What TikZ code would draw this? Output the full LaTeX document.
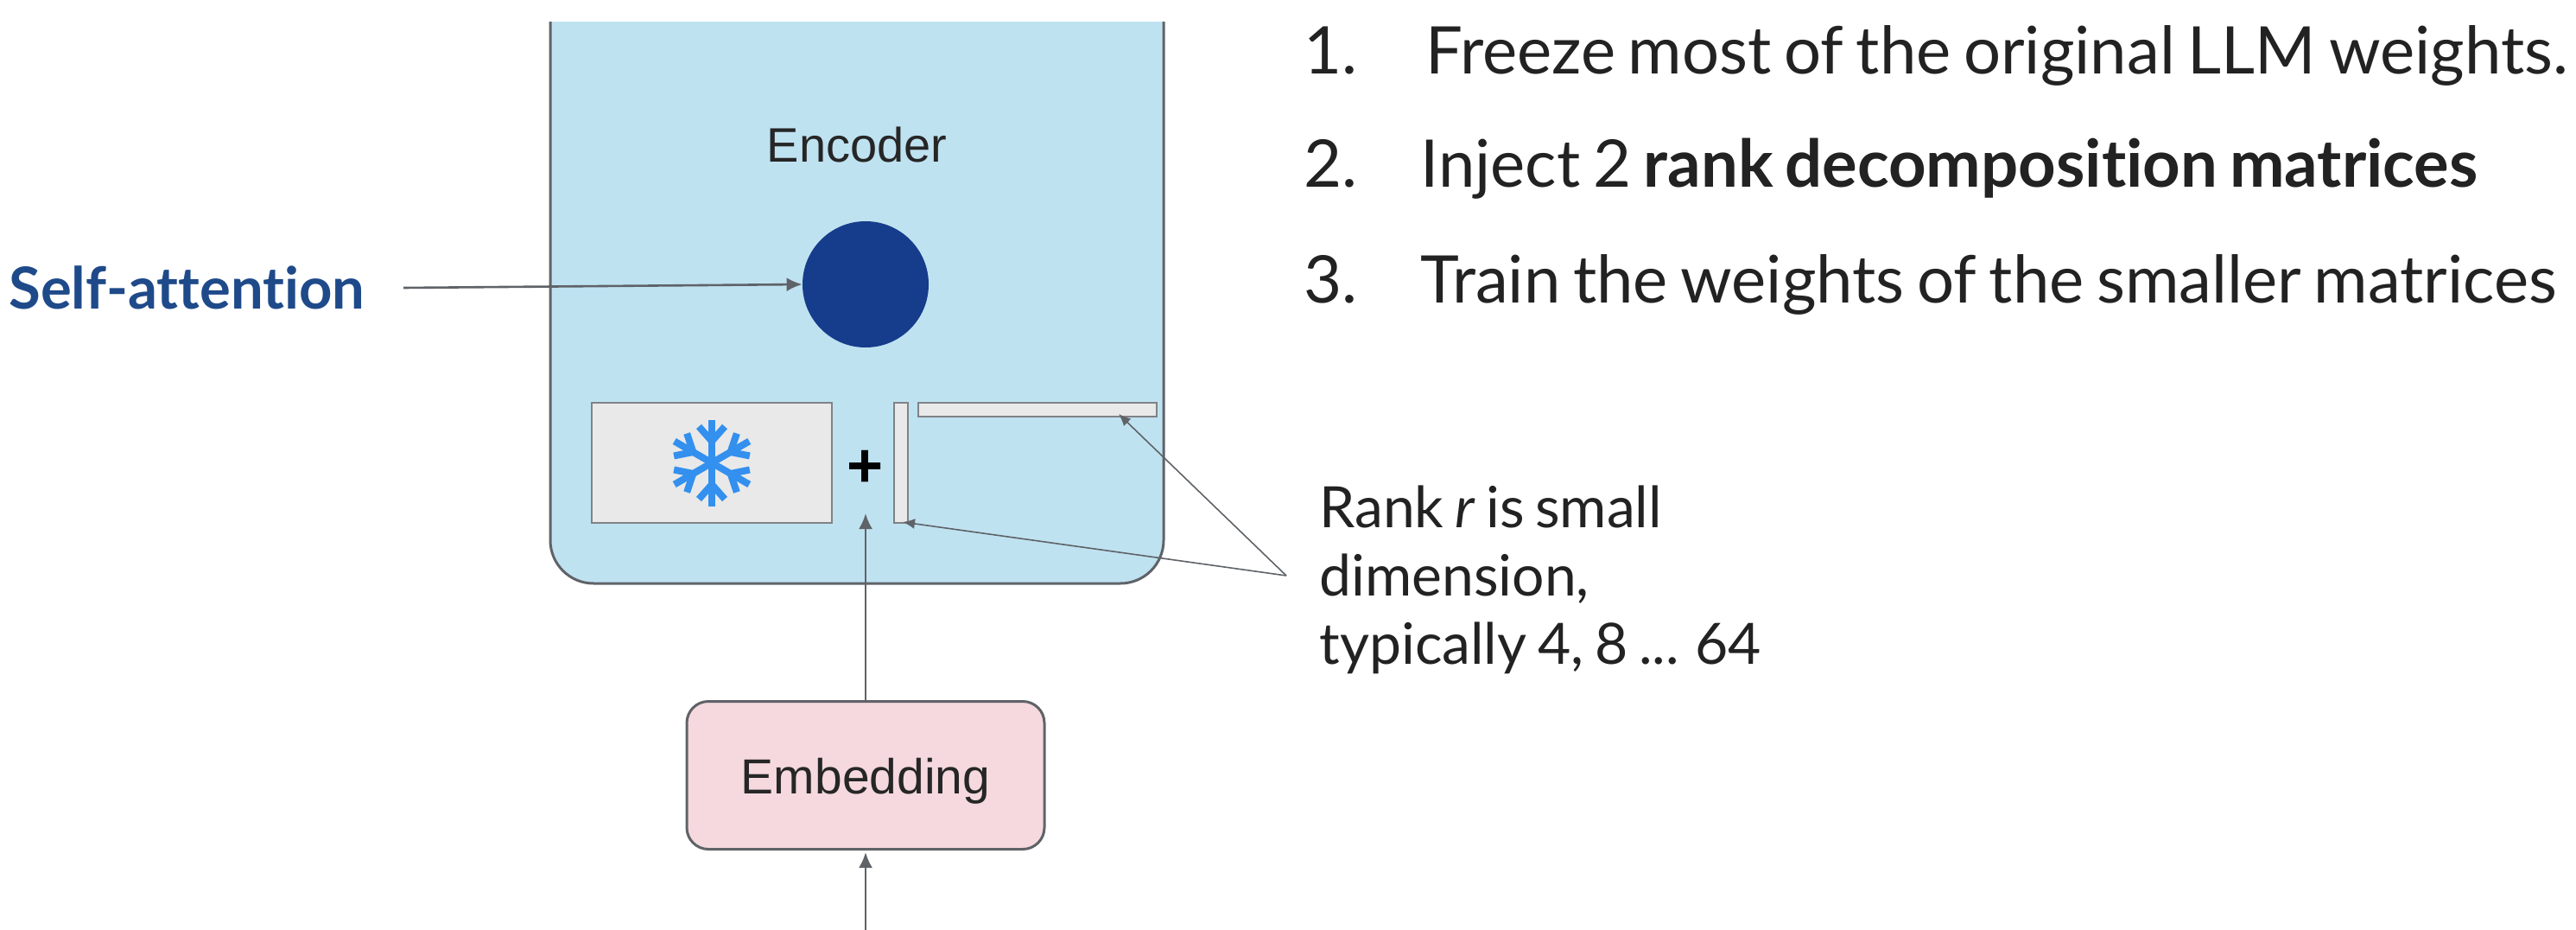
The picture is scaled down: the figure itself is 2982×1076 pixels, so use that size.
\documentclass[tikz,border=0pt]{standalone}
\usepackage{fontspec}
\setmainfont[Ligatures=NoCommon, WordSpace=0.75]{Lato}
\newfontfamily\arialfont{Liberation Sans}
\usetikzlibrary{positioning, arrows.meta}
\definecolor{encfill}{HTML}{BFE2F1}
\definecolor{embfill}{HTML}{F5D9DE}
\definecolor{matfill}{HTML}{E9E9E9}
\definecolor{edgegrey}{HTML}{5F6368}
\definecolor{attblue}{HTML}{163C8C}
\definecolor{iceblue}{HTML}{3390EE}
\definecolor{textblue}{HTML}{1F4A8A}
\definecolor{textdark}{HTML}{222222}
\tikzset{
  >={Latex[length=9pt,width=8pt]},
  flow/.style={->, draw=edgegrey, line width=1.3pt},
  pointer/.style={->, draw=edgegrey, line width=0.8pt, >={Latex[length=7pt,width=6pt]}},
  matrixbox/.style={draw=edgegrey!80, fill=matfill, line width=1pt, inner sep=0pt, anchor=north west},
  listtext/.style={anchor=base west, inner sep=0pt, font=\fontsize{38}{38}\selectfont, text=textdark},
  notetext/.style={anchor=base west, inner sep=0pt, font=\fontsize{33}{33}\selectfont, text=textdark},
}
\begin{document}
\begin{tikzpicture}[x=0.5pt, y=-0.5pt]
   \useasboundingbox (0,0) rectangle (2982,1076);

   % encoder box, open at the top
   \draw[fill=encfill, draw=edgegrey, line width=1.5pt, rounded corners=25pt] (637,25) -- (637,675) -- (1347,675) -- (1347,25);
   \node[inner sep=0pt, font=\arialfont\fontsize{28}{28}\selectfont, text=black!85] (encoder) at (992,167) {Encoder};

   \node[circle, fill=attblue, minimum size=73pt, inner sep=0pt] (attention) at (1002,329) {};
   \node[anchor=base west, inner sep=0pt, font=\bfseries\fontsize{33.5}{34}\selectfont, text=textblue] (selfatt) at (10,357) {Self-attention};
   \coordinate (attstart) at (467,333);
   \draw[flow] (attstart) -- (attention.west);

   % frozen weights and the two small matrices
   \node[matrixbox, minimum width=139pt, minimum height=69.5pt] (frozen) at (684,465) {};
   \begin{scope}[shift={(frozen.center)}]
      \foreach \a in {30,90,...,330} {
         \begin{scope}[rotate=\a, iceblue, line width=4pt]
            \draw (0,0) -- (50,0);
            \draw (42,15) -- (25,0) -- (42,-15);
         \end{scope}
      }
   \end{scope}
   \node[inner sep=0pt, font=\bfseries\arialfont\fontsize{36}{36}\selectfont] (plus) at (1002,542) {+};
   \node[matrixbox, minimum width=8pt, minimum height=69.5pt] (vbar) at (1034,465) {};
   \node[matrixbox, minimum width=138pt, minimum height=8pt] (hbar) at (1062,465) {};

   % note with its two pointers
   \node[notetext] (rank) at (1527,610) {Rank \textit{r} is small};
   \node[notetext] (dim) at (1527,689) {dimension,};
   \node[notetext] (typ) at (1527,768) {typically 4, 8 ... 64};
   \coordinate (rankpt) at (1489,666);
   \coordinate (hbartip) at (1295,479);
   \coordinate (vbartip) at (1045,604);
   \draw[pointer] (rankpt) -- (hbartip);
   \draw[pointer] (rankpt) -- (vbartip);

   % embedding and its arrows
   \node[draw=edgegrey, fill=embfill, line width=1.5pt, rounded corners=12.5pt, minimum width=207pt, minimum height=85.5pt, inner sep=0pt, text depth=0pt, font=\arialfont\fontsize{28.5}{28}\selectfont, text=black!85] (embedding) at (1002,897) {\raisebox{-1pt}{Embedding}};
   \coordinate (sumtip) at (1002,594);
   \coordinate (embtip) at (1002,986);
   \coordinate (instart) at (1002,1076);
   \draw[flow] (embedding.north) -- (sumtip);
   \draw[flow] (instart) -- (embtip);

   % numbered list
   \node[listtext] (n1) at (1509,85) {1.};
   \node[listtext] (t1) at (1650,85) {Freeze most of the original LLM weights.};
   \node[listtext] (n2) at (1509,216) {2.};
   \node[listtext] (t2) at (1644,216) {Inject 2 \textbf{rank decomposition matrices}};
   \node[listtext] (n3) at (1509,350) {3.};
   \node[listtext] (t3) at (1644,350) {Train the weights of the smaller matrices};
\end{tikzpicture}
\end{document}
